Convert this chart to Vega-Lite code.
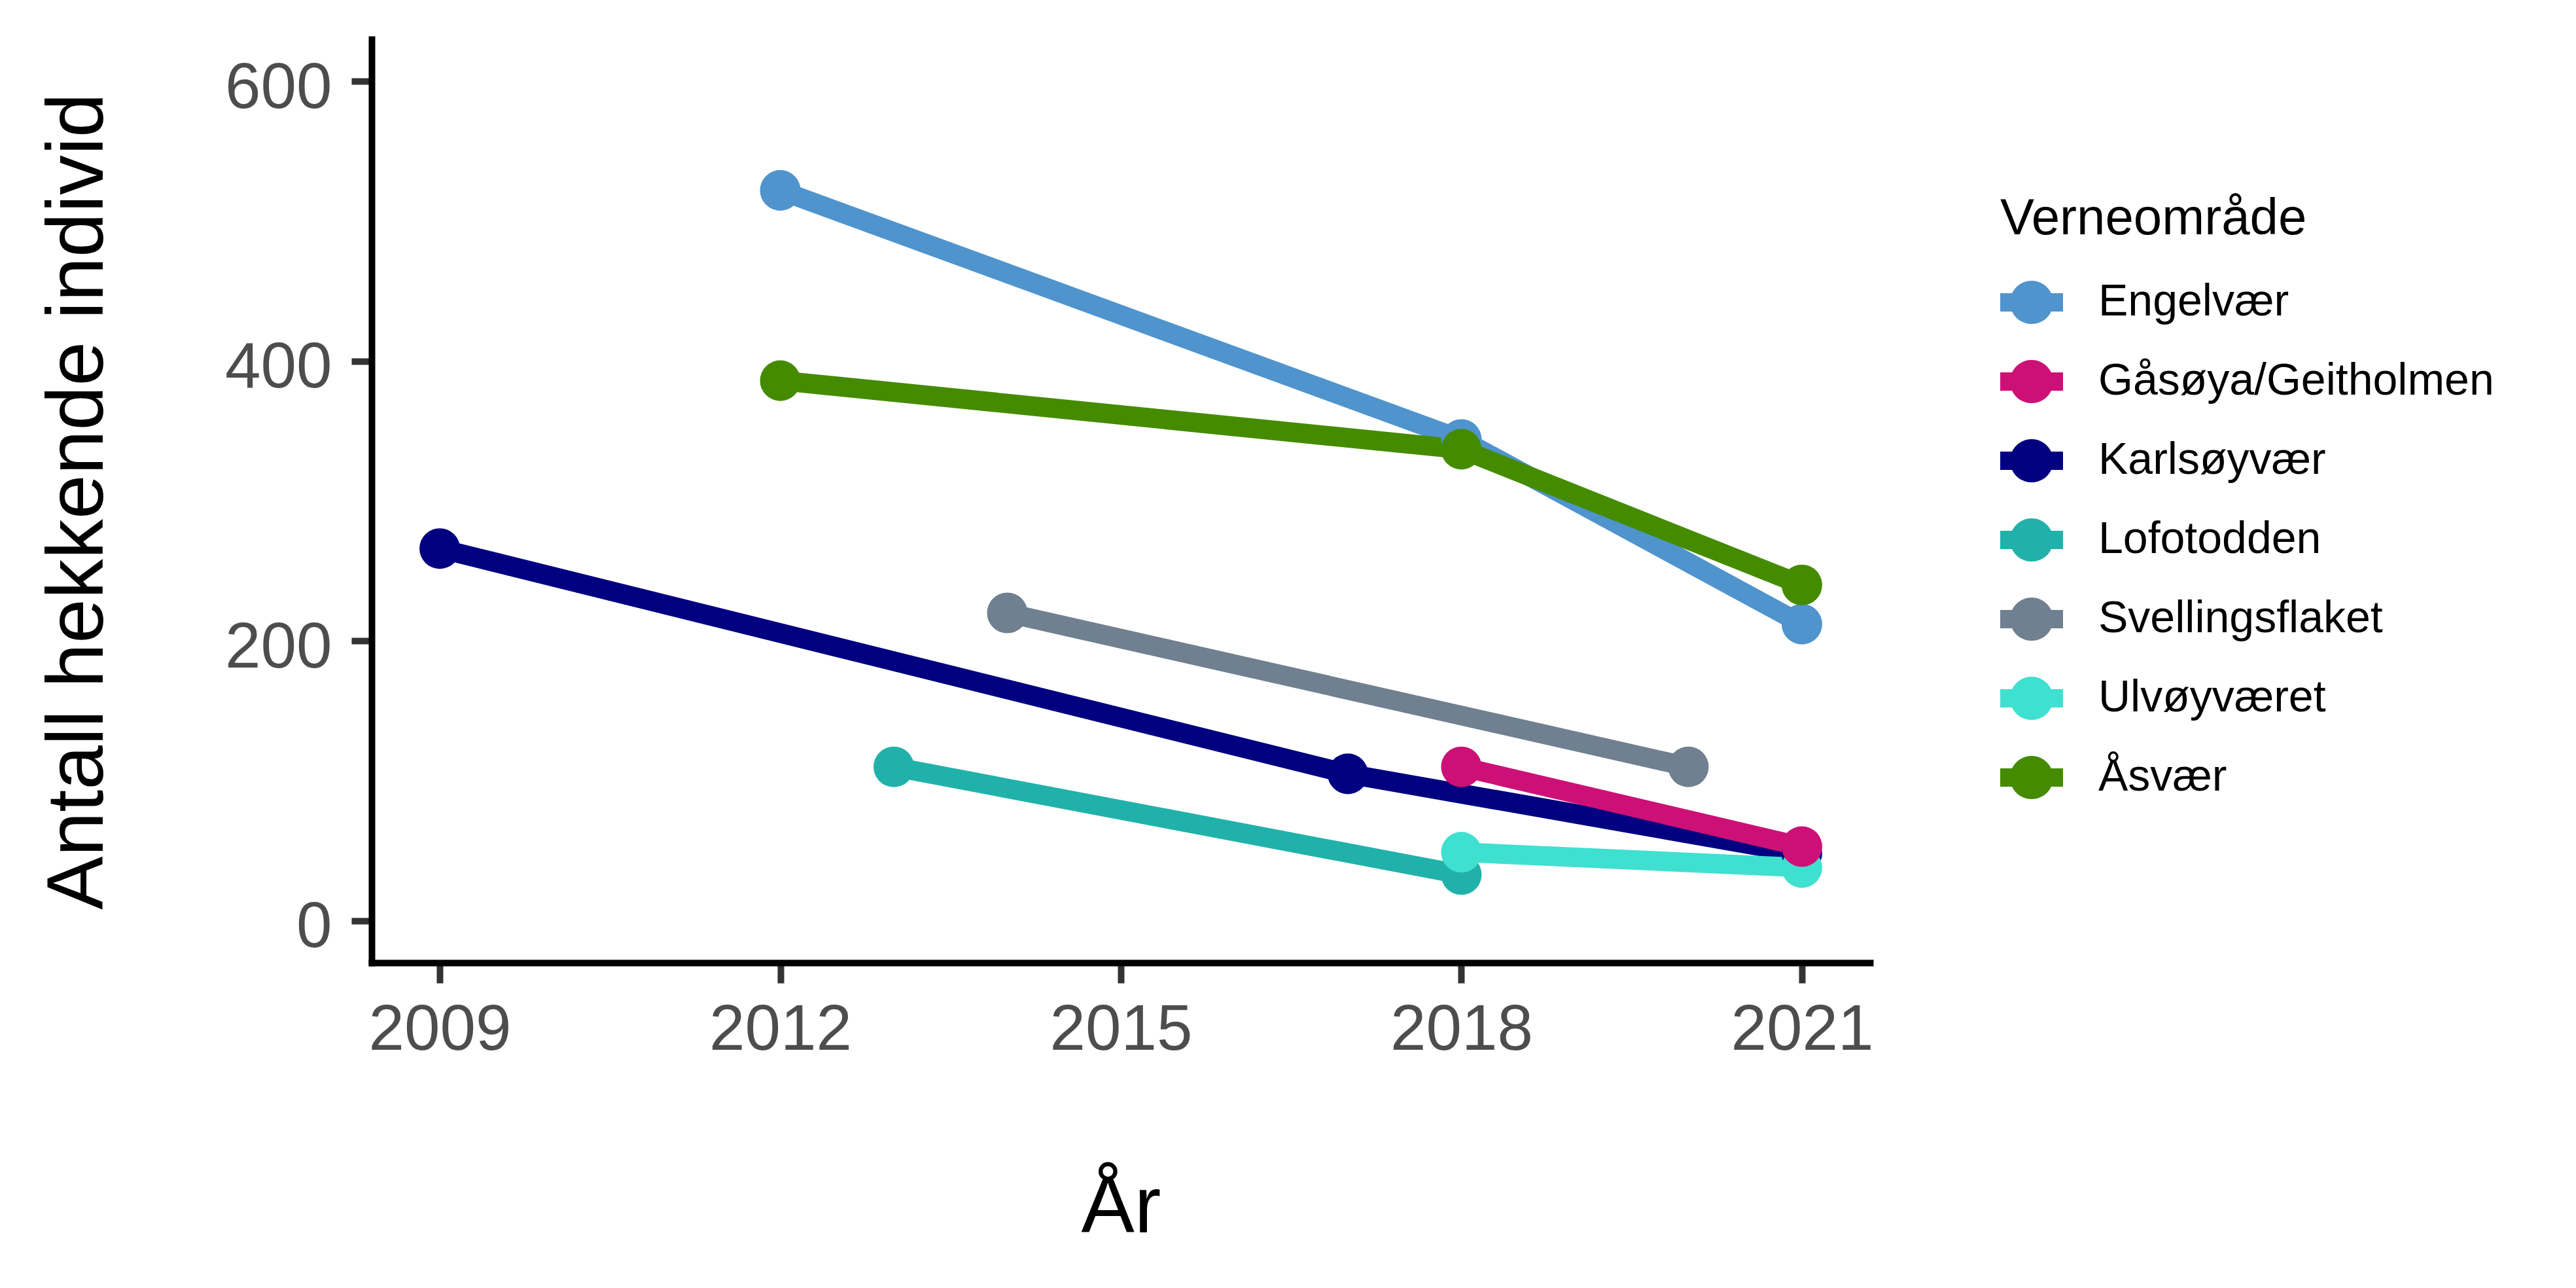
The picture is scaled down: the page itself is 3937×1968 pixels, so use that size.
{
  "$schema": "https://vega.github.io/schema/vega-lite/v6.json",
  "description": "Antall hekkende individ per verneområde og år.",
  "width": 2290,
  "height": 1411,
  "autosize": {"type": "none"},
  "padding": {"left": 568, "top": 60, "right": 1079, "bottom": 497},
  "background": "white",
  "data": {
    "values": [
      {"Verneomrade": "Engelvær", "Aar": 2012, "Antall": 522},
      {"Verneomrade": "Engelvær", "Aar": 2018, "Antall": 344},
      {"Verneomrade": "Engelvær", "Aar": 2021, "Antall": 212},
      {"Verneomrade": "Karlsøyvær", "Aar": 2009, "Antall": 266},
      {"Verneomrade": "Karlsøyvær", "Aar": 2017, "Antall": 105},
      {"Verneomrade": "Karlsøyvær", "Aar": 2021, "Antall": 48},
      {"Verneomrade": "Lofotodden", "Aar": 2013, "Antall": 110},
      {"Verneomrade": "Lofotodden", "Aar": 2018, "Antall": 33},
      {"Verneomrade": "Svellingsflaket", "Aar": 2014, "Antall": 220},
      {"Verneomrade": "Svellingsflaket", "Aar": 2020, "Antall": 110},
      {"Verneomrade": "Ulvøyværet", "Aar": 2018, "Antall": 49},
      {"Verneomrade": "Ulvøyværet", "Aar": 2021, "Antall": 38},
      {"Verneomrade": "Gåsøya/Geitholmen", "Aar": 2018, "Antall": 110},
      {"Verneomrade": "Gåsøya/Geitholmen", "Aar": 2021, "Antall": 53},
      {"Verneomrade": "Åsvær", "Aar": 2012, "Antall": 386},
      {"Verneomrade": "Åsvær", "Aar": 2018, "Antall": 337},
      {"Verneomrade": "Åsvær", "Aar": 2021, "Antall": 240}
    ]
  },
  "encoding": {
    "x": {
      "field": "Aar",
      "type": "quantitative",
      "scale": {"domain": [2008.4, 2021.6], "nice": false, "zero": false},
      "axis": {
        "title": "År",
        "values": [2009, 2012, 2015, 2018, 2021],
        "format": "d",
        "labelBaseline": "alphabetic",
        "labelPadding": 101,
        "titleX": 1145,
        "titleY": 411,
        "titleBaseline": "alphabetic",
        "titleAlign": "center"
      }
    },
    "y": {
      "field": "Antall",
      "type": "quantitative",
      "scale": {"domain": [-30, 630], "nice": false, "zero": false},
      "axis": {
        "title": "Antall hekkende individ",
        "values": [0, 200, 400, 600],
        "labelBaseline": "alphabetic",
        "labelOffset": 40,
        "labelPadding": 30,
        "titleX": -412,
        "titleY": 705.5,
        "titleAngle": 270,
        "titleBaseline": "alphabetic",
        "titleAlign": "center"
      }
    },
    "color": {
      "field": "Verneomrade",
      "type": "nominal",
      "scale": {
        "domain": ["Engelvær", "Gåsøya/Geitholmen", "Karlsøyvær", "Lofotodden", "Svellingsflaket", "Ulvøyværet", "Åsvær"],
        "range": ["#4F94CD", "#CD1076", "#000080", "#20B2AA", "#708090", "#40E0D0", "#458B00"]
      },
      "legend": {
        "title": "Verneområde",
        "orient": "none",
        "legendX": 2489,
        "legendY": 236,
        "padding": 0,
        "symbolType": "M-1,-0.29H-0.6234A0.6875,0.6875,0,0,1,0.6234,-0.29H1V0.29H0.6234A0.6875,0.6875,0,0,1,-0.6234,0.29H-1Z",
        "symbolSize": 9216,
        "symbolStrokeWidth": 0,
        "symbolOpacity": 1,
        "labelOffset": 54,
        "rowPadding": 39,
        "titlePadding": 40,
        "encode": {
          "symbols": {
            "update": {
              "fill": {"scale": "color", "field": "value"},
              "fillOpacity": {"value": 1},
              "strokeWidth": {"value": 0}
            }
          }
        }
      }
    }
  },
  "layer": [
    {
      "mark": {"type": "line", "strokeWidth": 30, "strokeCap": "butt", "strokeJoin": "round"}
    },
    {
      "mark": {"type": "point", "filled": true, "size": 3850, "opacity": 1, "strokeWidth": 0}
    }
  ],
  "config": {
    "font": "Liberation Sans",
    "view": {"stroke": null},
    "axis": {
      "grid": false,
      "domainColor": "#000000",
      "domainWidth": 10,
      "domainCap": "square",
      "tickColor": "#333333",
      "tickWidth": 10,
      "tickSize": 31,
      "labelFont": "Liberation Sans",
      "labelFontSize": 98,
      "labelColor": "#4D4D4D",
      "labelFlush": false,
      "labelOverlap": false,
      "labelLimit": 0,
      "titleFont": "Liberation Sans",
      "titleFontSize": 122,
      "titleFontWeight": "normal",
      "titleColor": "#000000",
      "titleLimit": 0
    },
    "legend": {
      "titleFont": "Liberation Sans",
      "titleFontSize": 78,
      "titleFontWeight": "normal",
      "titleColor": "#000000",
      "titleLimit": 0,
      "labelFont": "Liberation Sans",
      "labelFontSize": 68,
      "labelColor": "#000000",
      "labelLimit": 0
    }
  }
}
